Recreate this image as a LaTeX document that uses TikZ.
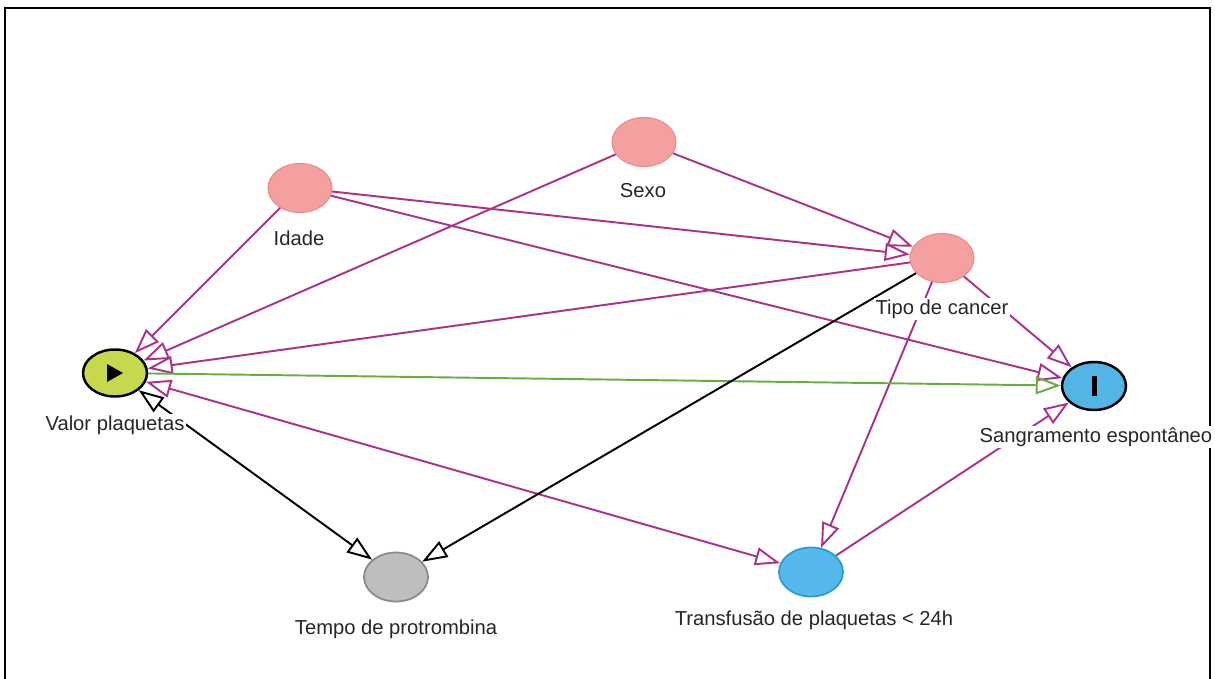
\documentclass[tikz,border=0pt]{standalone}
\usepackage{fontspec}
\setmainfont{Liberation Sans}
\usetikzlibrary{arrows.meta,shapes.geometric,calc}
\definecolor{edgepink}{RGB}{172,50,136}
\definecolor{edgegreen}{RGB}{104,174,62}
\definecolor{nodepink}{RGB}{245,160,160}
\definecolor{nodepinkline}{RGB}{232,138,138}
\definecolor{expgreen}{RGB}{200,216,78}
\definecolor{outblue}{RGB}{82,181,230}
\definecolor{medblue}{RGB}{84,185,234}
\definecolor{medblueline}{RGB}{42,155,214}
\definecolor{latgray}{RGB}{190,190,190}
\definecolor{latgrayline}{RGB}{138,138,138}
\tikzset{
  var/.style={
    shape = ellipse,
    draw,
    inner sep = 0pt,
    minimum width = 1.28cm,
    minimum height = 0.98cm,
    line width = 0.6pt
  },
  covariate/.style={var, fill=nodepink, draw=nodepinkline},
  exposure/.style={var, fill=expgreen, line width=1.4pt, minimum height=0.94cm},
  outcome/.style={var, fill=outblue, line width=1.4pt, minimum height=0.96cm},
  mediator/.style={var, fill=medblue, draw=medblueline, line width=1pt},
  latent/.style={var, fill=latgray, draw=latgrayline, line width=1pt},
  vlabel/.style={
    fill = white,
    inner sep = 1pt,
    text = black!85,
    font = \fontsize{11.5}{13}\selectfont
  },
  arc/.style={draw=edgepink, line width=1.1pt},
  every picture/.style={
    >={Triangle[open, length=0.5cm, width=0.36cm]}
  }
}
\begin{document}
\begin{tikzpicture}[x=0.02cm, y=-0.02cm]
  \useasboundingbox (0,0) rectangle (1215,679);
  \draw[line width=1.3pt] (5,679) -- (5,8) -- (1210,8) -- (1210,679);

  \node[exposure] (valor) at (115,373) {};
  \node[covariate] (idade) at (300,188) {};
  \node[covariate] (sexo) at (644,142) {};
  \node[covariate] (tipo) at (942,258) {};
  \node[outcome] (sang) at (1094,386) {};
  \node[latent] (tempo) at (396,577) {};
  \node[mediator] (transf) at (811,572) {};

  \fill ($(valor)+(-8,-9)$) -- ($(valor)+(-8,9)$) -- ($(valor)+(8,0)$) -- cycle;
  \fill ($(sang)+(-2.5,-10)$) rectangle ($(sang)+(2.5,10)$);

  % arcs
  \draw[arc,->] (idade) -- (valor);
  \draw[arc,->] (idade) -- (tipo);
  \draw[arc,->] (idade) -- (sang);
  \draw[arc,->] (sexo) -- (valor);
  \draw[arc,->] (sexo) -- (tipo);
  \draw[arc,->] (tipo) -- (valor);
  \draw[arc,->] (tipo) -- (sang);
  \draw[arc,->] (tipo) -- (transf);
  \draw[arc,->] (transf) -- (sang);
  \draw[arc,<->] (valor) -- (transf);
  \draw[edgegreen, line width=1.1pt, ->] (valor) -- (sang);
  \draw[line width=1.1pt, ->] (tipo) -- (tempo);
  \draw[line width=1.1pt, <->] (valor) -- (tempo);

  \node[vlabel] (valortxt) at (115,425) {Valor plaquetas};
  \node[vlabel] (idadetxt) at (299,238) {Idade};
  \node[vlabel] (sexotxt) at (643,191) {Sexo};
  \node[vlabel] (tipotxt) at (942,309) {Tipo de cancer};
  \node[vlabel] (sangtxt) at (1096,437) {Sangramento espontâneo};
  \node[vlabel] (tempotxt) at (396,629) {Tempo de protrombina};
  \node[vlabel] (transftxt) at (814,620) {Transfusão de plaquetas < 24h};
\end{tikzpicture}
\end{document}
